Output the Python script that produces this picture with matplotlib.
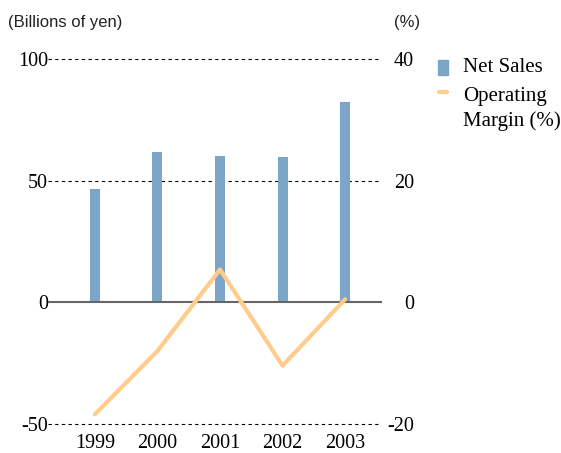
import matplotlib.pyplot as plt
import matplotlib as mpl

mpl.rcParams['font.family'] = ['Liberation Serif', 'DejaVu Serif']

years = ['1999', '2000', '2001', '2002', '2003']
net_sales = [46.7, 61.9, 60.2, 59.8, 82.4]
op_margin = [-18.4, -8.0, 5.4, -10.4, 0.5]

bar_color = '#7da5c9'
line_color = '#ffcc8c'

fig = plt.figure(figsize=(5.61, 4.53), dpi=100)
ax = fig.add_axes([48 / 561, 1 - 424 / 453, (382 - 48) / 561, (424 - 59) / 453])
ax2 = ax.twinx()

x = list(range(len(years)))
ax.bar(x, net_sales, width=0.16, color=bar_color, zorder=2)
ax.set_xlim(-0.75, 4.59)
ax.set_ylim(-50, 100)
ax2.set_ylim(-20, 40)

# dashed guides; the upper ones stop a little short of the zero line
xend = (378 - 48) / (382 - 48)
for yv in [100, 50]:
    ax.axhline(yv, xmin=0, xmax=xend, color='black', ls=(0, (3, 3)), lw=0.8, zorder=1, clip_on=False)
ax.axhline(-50, xmin=0, xmax=(380 - 48) / (382 - 48), color='black', ls=(0, (3, 3)), lw=0.8,
           zorder=1, clip_on=False)
ax.axhline(0, color='#666666', lw=1.5, zorder=3)

ax2.plot(x, op_margin, color=line_color, lw=3, solid_capstyle='round', zorder=4)
ax.set_zorder(ax2.get_zorder() - 1)
ax.patch.set_visible(False)

for a in (ax, ax2):
    for s in a.spines.values():
        s.set_visible(False)

fs = 14.5
ax.set_xticks(x)
ax.set_xticklabels(years, fontsize=fs)
ax.tick_params(axis='x', length=0, pad=7)
ax.set_yticks([-50, 0, 50, 100])
ax.set_yticklabels(['-50', '0', '50', '100'], fontsize=fs)
ax.tick_params(axis='y', length=0, pad=0)
ax2.set_yticks([-20, 0, 20, 40])
ax2.set_yticklabels(['-20', '0', '20', '40'], fontsize=fs)
ax2.tick_params(axis='y', length=0, pad=23)
for lab in ax2.get_yticklabels():
    lab.set_horizontalalignment('right')

sans = ['Liberation Sans Narrow', 'Liberation Sans', 'DejaVu Sans']
fig.text(8 / 561, 1 - 22 / 453, '(Billions of yen)', fontsize=12, family=sans, va='center', ha='left',
         color='#222222')
fig.text(394 / 561, 1 - 22 / 453, '(%)', fontsize=12, family=sans, va='center', ha='left',
         color='#222222')

# legend
fig.patches.append(mpl.patches.Rectangle((438 / 561, 1 - 75 / 453), 10 / 561, 15 / 453,
                                         transform=fig.transFigure, color=bar_color))
fig.text(463 / 561, 1 - 68 / 453, 'Net Sales', fontsize=15, va='center', ha='left')
fig.lines.append(mpl.lines.Line2D([439 / 561, 447 / 561], [1 - 92 / 453, 1 - 92 / 453],
                                  transform=fig.transFigure, color=line_color, lw=3,
                                  solid_capstyle='round'))
fig.text(463 / 561, 1 - 96 / 453, 'Operating', fontsize=15, va='center', ha='left')
fig.text(463 / 561, 1 - 121 / 453, 'Margin (%)', fontsize=15, va='center', ha='left')

plt.savefig('out.png', dpi=100)
plt.close()
